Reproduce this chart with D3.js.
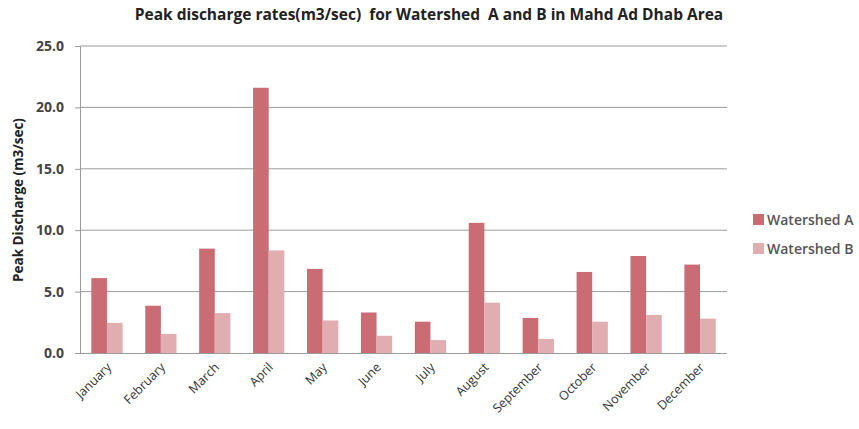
<!DOCTYPE html>
<html><head><meta charset="utf-8">
<script src="https://cdn.jsdelivr.net/npm/d3@7"></script>
<style>body{margin:0;background:#fff;}svg{display:block;}</style>
</head><body>
<svg id="chart" width="859" height="429"></svg>
<script>
const months = ["January","February","March","April","May","June","July","August","September","October","November","December"];
const watershedA = [6.1, 3.85, 8.5, 21.6, 6.85, 3.3, 2.55, 10.6, 2.85, 6.6, 7.9, 7.2];
const watershedB = [2.45, 1.55, 3.25, 8.35, 2.65, 1.4, 1.05, 4.1, 1.15, 2.55, 3.1, 2.8];
const yTicks = [0, 5, 10, 15, 20, 25];
const seriesNames = ["Watershed A", "Watershed B"];
const colors = ["#c96c74", "#e0adb1"];

const svg = d3.select("#chart");
const m = {left: 80, right: 727, top: 46, bottom: 353};
const x = d3.scaleBand().domain(months).range([m.left, m.right]).paddingInner(0.42).paddingOuter(0.21);
const xs = d3.scaleBand().domain([0,1]).range([0, x.bandwidth()]);
const y = d3.scaleLinear().domain([0, 25]).range([m.bottom, m.top]);

// gridlines
svg.append("g").selectAll("line").data(yTicks.filter(d => d > 0)).join("line")
  .attr("x1", m.left).attr("x2", m.right)
  .attr("y1", d => y(d)).attr("y2", d => y(d))
  .attr("stroke", "#9a9a9a").attr("stroke-width", 1);

// y axis
const yAxis = svg.append("g").attr("transform", `translate(${m.left},0)`)
  .call(d3.axisLeft(y).tickValues(yTicks).tickFormat(d3.format(".1f")).tickSize(5).tickSizeOuter(0));
yAxis.select(".domain").attr("stroke", "#9a9a9a");
yAxis.selectAll(".tick line").attr("stroke", "#9a9a9a");
yAxis.selectAll("text").attr("font-family", "Open Sans, sans-serif").attr("font-size", 14)
  .attr("font-weight", "bold").attr("fill", "#444").attr("x", -16);

// bars
const groups = svg.append("g").selectAll("g").data(months).join("g")
  .attr("transform", d => `translate(${x(d)},0)`);
groups.selectAll("rect").data((d, i) => [watershedA[i], watershedB[i]]).join("rect")
  .attr("x", (d, j) => xs(j)).attr("width", xs.bandwidth())
  .attr("y", d => y(d)).attr("height", d => y(0) - y(d))
  .attr("fill", (d, j) => colors[j]);

// x axis baseline
const xAxis = svg.append("g").attr("transform", `translate(0,${m.bottom})`)
  .call(d3.axisBottom(x).tickSize(0).tickSizeOuter(0));
xAxis.select(".domain").attr("stroke", "#9a9a9a").attr("d", `M${m.left},0.5H${m.right}`);
xAxis.selectAll("text")
  .attr("font-family", "Open Sans, sans-serif").attr("font-size", 12.5).attr("fill", "#333")
  .attr("text-anchor", "end").attr("dy", "0")
  .attr("transform", "translate(3,13) rotate(-45)");

// y title
svg.append("text").attr("transform", "translate(23,200) rotate(-90)")
  .attr("text-anchor", "middle").attr("font-family", "Open Sans, sans-serif")
  .attr("font-size", 13.5).attr("font-weight", "bold").attr("fill", "#222")
  .text("Peak Discharge (m3/sec)");

// title
svg.append("text").attr("x", 429).attr("y", 20).attr("text-anchor", "middle")
  .attr("font-family", "Open Sans, sans-serif").attr("font-size", 15.5).attr("font-weight", "bold").attr("fill", "#222")
  .style("white-space", "pre")
  .text("Peak discharge rates(m3/sec)  for Watershed  A and B in Mahd Ad Dhab Area");

// legend
const leg = svg.append("g").selectAll("g").data(seriesNames).join("g")
  .attr("transform", (d, i) => `translate(753,${214 + i * 29})`);
leg.append("rect").attr("width", 11).attr("height", 11).attr("fill", (d, i) => colors[i]);
leg.append("text").attr("x", 14).attr("y", 11).attr("font-family", "Open Sans, sans-serif")
  .attr("font-size", 14).attr("font-weight", 600).attr("fill", "#555").text(d => d);
</script>
</body></html>
